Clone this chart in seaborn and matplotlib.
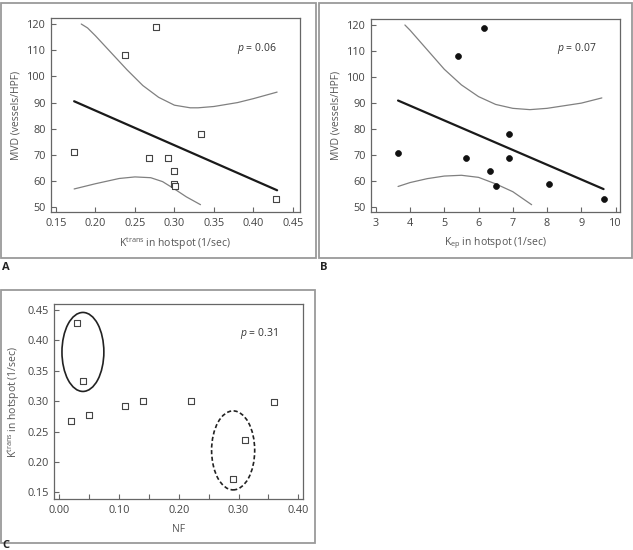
import matplotlib
matplotlib.use("Agg")
import matplotlib.pyplot as plt
from matplotlib.patches import Rectangle, Ellipse
from matplotlib.ticker import MultipleLocator, FormatStrFormatter
import seaborn as sns
import pandas as pd

sns.set_theme(style="ticks")
plt.rcParams['font.family'] = ['Open Sans', 'DejaVu Sans']
plt.rcParams['mathtext.fontset'] = 'custom'
plt.rcParams['mathtext.rm'] = 'Open Sans'
plt.rcParams['mathtext.it'] = 'Open Sans:italic'

# ---------------- data ----------------
ktrans = [0.173, 0.237, 0.277, 0.268, 0.292, 0.299, 0.300, 0.301, 0.334, 0.429]
mvd = [71, 108, 119, 69, 69, 64, 59, 58, 78, 53]
kep = [3.65, 5.40, 6.15, 5.62, 6.33, 6.50, 6.88, 6.90, 8.05, 9.65]
mvd_b = [71, 108, 119, 69, 64, 58, 69, 78, 59, 53]
nf = [0.02, 0.03, 0.04, 0.05, 0.11, 0.14, 0.22, 0.29, 0.31, 0.36]
ktrans_c = [0.268, 0.428, 0.333, 0.277, 0.292, 0.300, 0.300, 0.172, 0.236, 0.299]

# regression lines (end points)
fit_a_x = [0.173, 0.430]
fit_a_y = [90.5, 56.5]
fit_b_x = [3.65, 9.65]
fit_b_y = [91.0, 57.0]

# confidence curves
up_a_x = [0.182, 0.19, 0.20, 0.22, 0.24, 0.26, 0.28, 0.30, 0.32, 0.33, 0.35, 0.38, 0.40, 0.43]
up_a_y = [120, 118.5, 115.5, 109, 102.5, 96.5, 92, 89, 88, 88, 88.5, 90, 91.5, 94]
lo_a_x = [0.173, 0.20, 0.23, 0.25, 0.27, 0.285, 0.30, 0.315, 0.333]
lo_a_y = [57, 59, 61, 61.6, 61.3, 59.8, 57, 54, 51]
up_b_x = [3.85, 4.0, 4.5, 5.0, 5.5, 6.0, 6.5, 7.0, 7.5, 8.0, 8.5, 9.0, 9.6]
up_b_y = [120, 118, 110.5, 103, 97, 92.5, 89.5, 88, 87.5, 88, 89, 90, 92]
lo_b_x = [3.65, 4.0, 4.5, 5.0, 5.5, 6.0, 6.5, 7.0, 7.55]
lo_b_y = [58, 59.5, 61, 62, 62.3, 61.5, 59, 56, 51]

# group ellipses in panel C: centre x, centre y, width, height
ell_solid = [0.040, 0.381, 0.070, 0.130]
ell_dash = [0.291, 0.219, 0.072, 0.130]

p_labels = ["0.06", "0.07", "0.31"]

W, H = 633, 550
fig = plt.figure(figsize=(W / 100, H / 100), dpi=100)

def rect(l, t, r, b):
    return [l / W, 1 - b / H, (r - l) / W, (b - t) / H]

GREY = "#555555"
FS = 7.2
TFS = 7.8

def style(ax):
    for s in ax.spines.values():
        s.set_color("#666666")
        s.set_linewidth(0.9)
    ax.tick_params(direction="in", length=3.5, width=0.8, color="#666666",
                   labelsize=TFS, labelcolor="#444444", pad=4)
    ax.tick_params(which="minor", direction="in", length=3.5, width=0.8, color="#666666")

# outer frames
for l, t, r, b in [(1, 3, 316, 258), (319, 3, 632, 258), (1, 290, 315, 543)]:
    fig.patches.append(Rectangle((l / W, 1 - b / H), (r - l) / W, (b - t) / H,
                                 transform=fig.transFigure, fill=False,
                                 edgecolor="#9a9a9a", linewidth=1.3))

# ---------------- Panel A ----------------
axA = fig.add_axes(rect(51, 18, 300, 212))
sns.lineplot(x=up_a_x, y=up_a_y, ax=axA, color="#808080", lw=0.9, sort=False)
sns.lineplot(x=lo_a_x, y=lo_a_y, ax=axA, color="#808080", lw=0.9, sort=False)
sns.lineplot(x=fit_a_x, y=fit_a_y, ax=axA, color="#1a1a1a", lw=1.6)
sns.scatterplot(x=ktrans, y=mvd, ax=axA, marker="s", s=14, facecolor="white",
                edgecolor="#444444", linewidth=0.8, zorder=5)
axA.set_xlim(0.1437, 0.459)
axA.set_ylim(48.2, 122.3)
axA.xaxis.set_major_locator(MultipleLocator(0.05))
axA.xaxis.set_major_formatter(FormatStrFormatter("%.2f"))
axA.yaxis.set_major_locator(MultipleLocator(10))
axA.set_xlabel(r"K$^{\mathrm{trans}}$ in hotspot (1/sec)", fontsize=FS + 0.3, color=GREY, labelpad=5)
axA.set_ylabel("MVD (vessels/HPF)", fontsize=FS + 0.3, color=GREY, labelpad=4)
style(axA)
axA.text(0.905, 0.845, r"$p$ = " + p_labels[0], transform=axA.transAxes, ha="right",
         va="center", fontsize=FS + 0.3, color="#333333")

# ---------------- Panel B ----------------
axB = fig.add_axes(rect(371, 19, 620, 212))
sns.lineplot(x=up_b_x, y=up_b_y, ax=axB, color="#808080", lw=0.9, sort=False)
sns.lineplot(x=lo_b_x, y=lo_b_y, ax=axB, color="#808080", lw=0.9, sort=False)
sns.lineplot(x=fit_b_x, y=fit_b_y, ax=axB, color="#1a1a1a", lw=1.6)
sns.scatterplot(x=kep, y=mvd_b, ax=axB, marker="o", s=18, color="#111111",
                edgecolor="#111111", linewidth=0.5, zorder=5)
axB.set_xlim(2.86, 10.13)
axB.set_ylim(48.2, 122.3)
axB.xaxis.set_major_locator(MultipleLocator(1))
axB.yaxis.set_major_locator(MultipleLocator(10))
axB.set_xlabel(r"K$_{\mathrm{ep}}$ in hotspot (1/sec)", fontsize=FS + 0.3, color=GREY, labelpad=5)
axB.set_ylabel("MVD (vessels/HPF)", fontsize=FS + 0.3, color=GREY, labelpad=4)
style(axB)
axB.text(0.905, 0.845, r"$p$ = " + p_labels[1], transform=axB.transAxes, ha="right",
         va="center", fontsize=FS + 0.3, color="#333333")

# ---------------- Panel C ----------------
axC = fig.add_axes(rect(54, 304, 303, 499))
sns.scatterplot(x=nf, y=ktrans_c, ax=axC, marker="s", s=14, facecolor="white",
                edgecolor="#444444", linewidth=0.8, zorder=5)
axC.add_patch(Ellipse((ell_solid[0], ell_solid[1]), ell_solid[2], ell_solid[3],
                      fill=False, edgecolor="#222222", lw=1.2))
axC.add_patch(Ellipse((ell_dash[0], ell_dash[1]), ell_dash[2], ell_dash[3],
                      fill=False, edgecolor="#222222", lw=1.2, ls=(0, (2.5, 1.5))))
axC.set_xlim(-0.0083, 0.4077)
axC.set_ylim(0.139, 0.4599)
axC.xaxis.set_major_locator(MultipleLocator(0.10))
axC.xaxis.set_minor_locator(MultipleLocator(0.05))
axC.xaxis.set_major_formatter(FormatStrFormatter("%.2f"))
axC.yaxis.set_major_locator(MultipleLocator(0.05))
axC.yaxis.set_major_formatter(FormatStrFormatter("%.2f"))
axC.set_xlabel("NF", fontsize=FS + 0.3, color=GREY, labelpad=6)
axC.set_ylabel(r"K$^{\mathrm{trans}}$ in hotspot (1/sec)", fontsize=FS + 0.3, color=GREY, labelpad=4)
style(axC)
axC.text(0.90, 0.85, r"$p$ = " + p_labels[2], transform=axC.transAxes, ha="right",
         va="center", fontsize=FS + 0.3, color="#333333")

# panel letters
for letter, x, y in [("A", 2, 268), ("B", 320, 268), ("C", 2, 545)]:
    fig.text(x / W, 1 - y / H, letter, fontsize=8, fontweight="bold", color="#222222",
             ha="left", va="center")

fig.savefig("out.png", dpi=100)
